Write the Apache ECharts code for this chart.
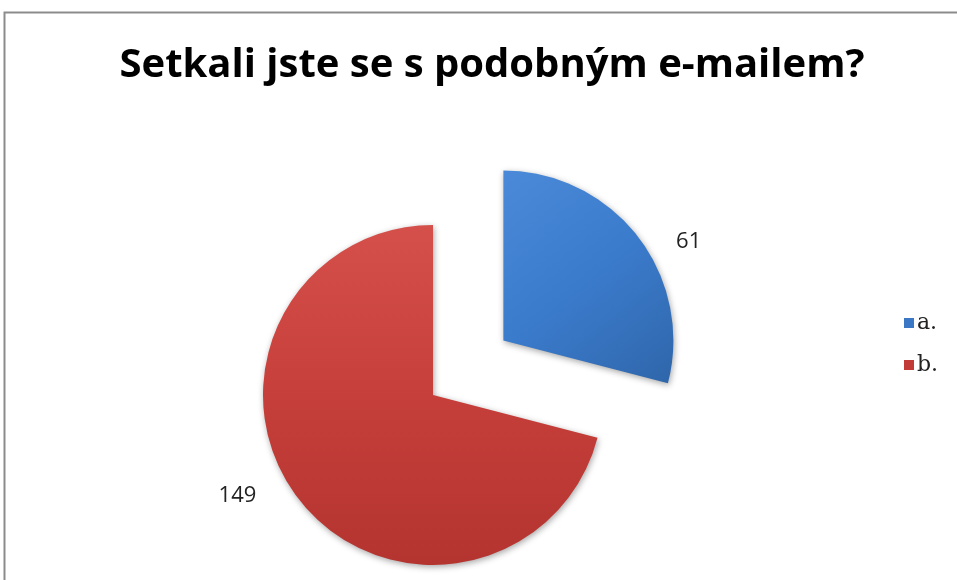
<!DOCTYPE html>
<html>
<head>
<meta charset="utf-8">
<script src="https://cdn.jsdelivr.net/npm/echarts@6/dist/echarts.min.js"></script>
<style>html,body{margin:0;padding:0;background:#fff}#c{width:957px;height:580px}</style>
</head>
<body>
<div id="c"></div>
<script>
const titleText = 'Setkali jste se s podobným e-mailem?';
const categories = ['a.', 'b.'];
const values = [61, 149];

const colors = [
  {type:'linear',x:0,y:0,x2:1,y2:1,colorStops:[{offset:0,color:'#4a8ad8'},{offset:0.5,color:'#3b7bcc'},{offset:1,color:'#2f66aa'}]},
  {type:'linear',x:0,y:0,x2:0,y2:1,colorStops:[{offset:0,color:'#d6504b'},{offset:0.5,color:'#c63f3a'},{offset:1,color:'#b43430'}]}
];
const legendColors = ['#3a78c6', '#c23b36'];
const labelShift = [[-4, 8], [0, -6]];

const chart = echarts.init(document.getElementById('c'), null, {renderer:'canvas'});
chart.setOption({
  animation: false,
  backgroundColor: '#ffffff',
  graphic: [{
    type: 'rect', shape: {x: 4.5, y: 12.5, width: 1200, height: 1200},
    style: {fill: 'none', stroke: '#8c8c8c', lineWidth: 2}, silent: true, z: -1
  }],
  title: {
    text: titleText,
    left: 487, top: 41, textAlign: 'center',
    textStyle: {fontFamily: 'Open Sans', fontWeight: 'bold', fontSize: 40, color: '#000'}
  },
  legend: {
    orient: 'vertical', left: 899, top: 307,
    itemWidth: 10, itemHeight: 10, itemGap: 20,
    icon: 'rect',
    data: categories.map((c,i)=>({name:c, itemStyle:{color: legendColors[i]}})),
    textStyle: {fontFamily: 'DejaVu Serif', fontSize: 22, color: '#222', padding: [0,0,0,-2]}
  },
  series: [{
    type: 'pie',
    center: [433, 395],
    radius: 170,
    startAngle: 90,
    clockwise: true,
    selectedMode: 'single',
    selectedOffset: 89,
    avoidLabelOverlap: false,
    label: {
      show: true, position: 'outside', formatter: '{c}',
      fontFamily: 'Open Sans', fontSize: 22, color: '#222'
    },
    labelLine: {show: false, length: 4, length2: 34},
    labelLayout: function (p) { return {dx: labelShift[p.dataIndex][0], dy: labelShift[p.dataIndex][1]}; },
    itemStyle: {shadowBlur: 6, shadowColor: 'rgba(0,0,0,0.35)', shadowOffsetX: 1, shadowOffsetY: 2},
    emphasis: {disabled: true},
    data: categories.map((c,i)=>({name:c, value: values[i], selected: i===0, itemStyle:{color: colors[i]}}))
  }]
});
</script>
</body>
</html>
